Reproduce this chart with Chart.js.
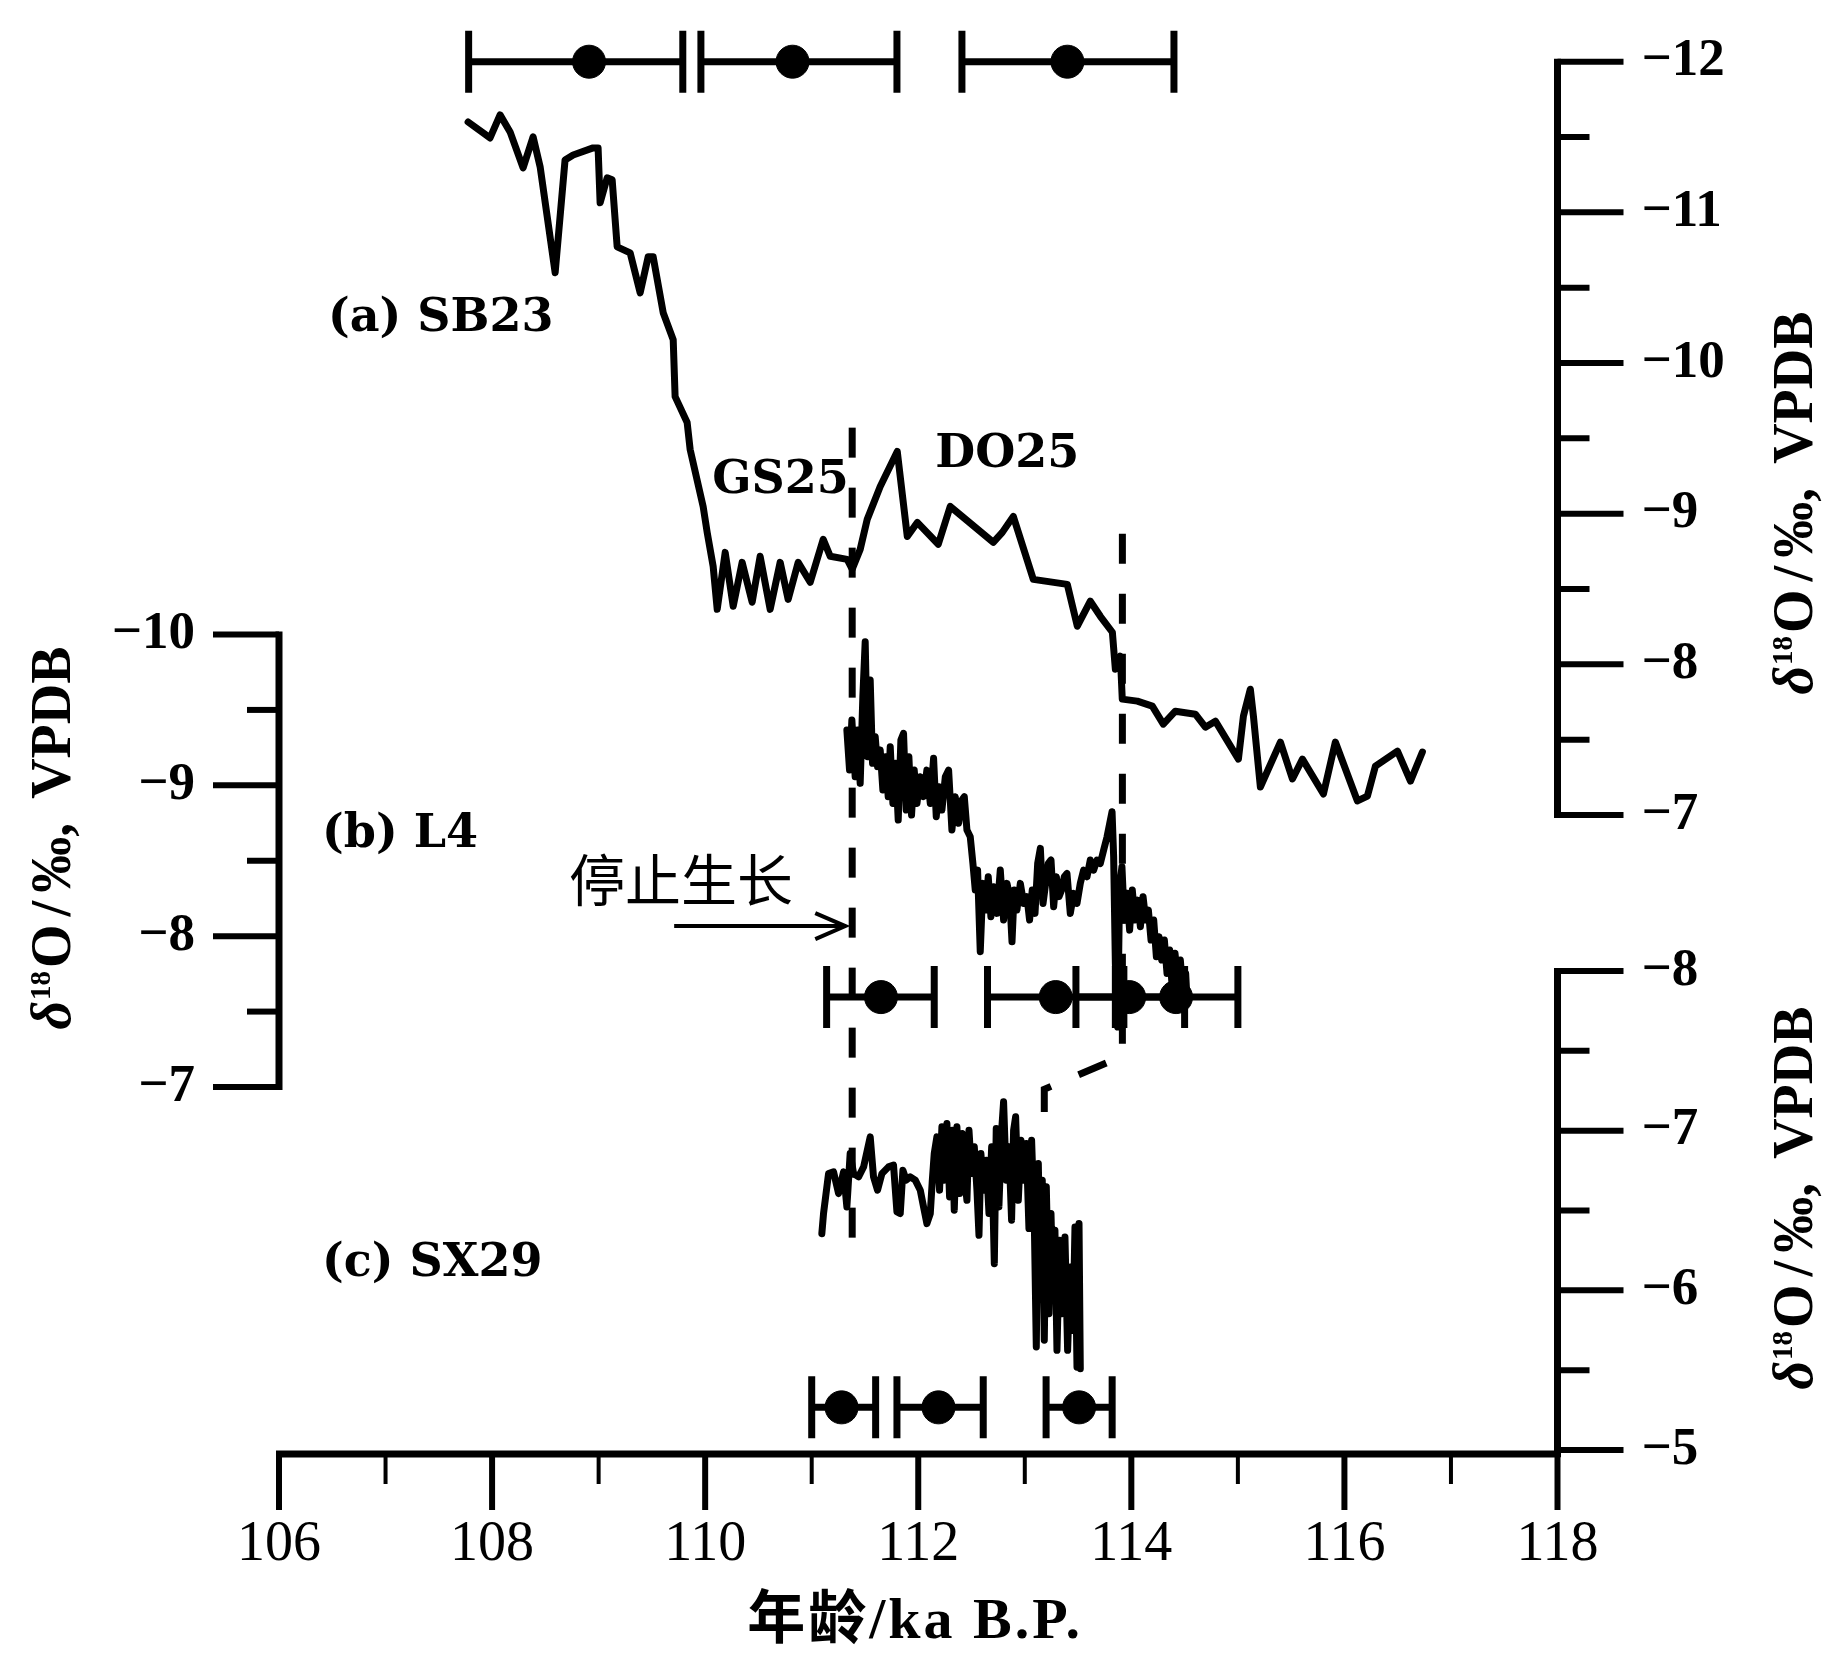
<!DOCTYPE html>
<html>
<head>
<meta charset="utf-8">
<script src="https://cdn.jsdelivr.net/npm/chart.js@4.4.0/dist/chart.umd.min.js"></script>
<style>
  html, body { margin: 0; padding: 0; background: #fff; }
  canvas { display: block; }
</style>
</head>
<body>
<canvas id="chart" width="1839" height="1675"></canvas>
<script>
// ---- data ----
// (a) SB23, right upper axis
const sb23Age = [107.775, 107.981, 108.075, 108.169, 108.291, 108.385, 108.451, 108.592, 108.685, 108.761,
  108.948, 108.995, 109.014, 109.080, 109.127, 109.174, 109.296, 109.390, 109.465, 109.512,
  109.606, 109.700, 109.718, 109.831, 109.859, 109.981, 110.019, 110.075, 110.113, 110.188,
  110.263, 110.347, 110.441, 110.516, 110.610, 110.704, 110.779, 110.873, 110.986, 111.108,
  111.174, 111.333, 111.380, 111.455, 111.521, 111.643, 111.803, 111.897, 111.991, 112.188,
  112.300, 112.704, 112.789, 112.892, 113.080, 113.399, 113.493, 113.615, 113.709, 113.822,
  113.850, 113.897, 113.915, 114.056, 114.197, 114.300, 114.413, 114.601, 114.695, 114.789,
  115.005, 115.052, 115.117, 115.146, 115.211, 115.399, 115.512, 115.606, 115.803, 115.915,
  116.122, 116.216, 116.291, 116.498, 116.620, 116.732];
const sb23Value = [-11.600, -11.494, -11.647, -11.534, -11.295, -11.501, -11.302, -10.599, -11.348, -11.381,
  -11.428, -11.428, -11.063, -11.229, -11.216, -10.771, -10.731, -10.466, -10.705, -10.705,
  -10.334, -10.155, -9.777, -9.605, -9.426, -9.048, -8.875, -8.650, -8.365, -8.743,
  -8.385, -8.677, -8.412, -8.717, -8.365, -8.677, -8.431, -8.677, -8.545, -8.830,
  -8.717, -8.697, -8.631, -8.763, -8.962, -9.181, -9.413, -8.849, -8.942, -8.797,
  -9.048, -8.810, -8.876, -8.982, -8.564, -8.531, -8.253, -8.419, -8.319, -8.213,
  -7.968, -8.054, -7.769, -7.756, -7.723, -7.603, -7.689, -7.669, -7.583, -7.623,
  -7.371, -7.656, -7.835, -7.656, -7.186, -7.484, -7.239, -7.371, -7.139, -7.484,
  -7.093, -7.126, -7.325, -7.424, -7.225, -7.418];

// (b) L4, left axis
const l4Age = [111.330, 111.355, 111.377, 111.408, 111.430, 111.455, 111.480, 111.502, 111.524, 111.549,
  111.571, 111.596, 111.618, 111.643, 111.668, 111.693, 111.718, 111.737, 111.762, 111.787,
  111.812, 111.837, 111.862, 111.887, 111.912, 111.937, 111.962, 111.988, 112.019, 112.050,
  112.081, 112.113, 112.144, 112.169, 112.194, 112.222, 112.254, 112.285, 112.316, 112.347,
  112.379, 112.410, 112.432, 112.457, 112.488, 112.513, 112.535, 112.557, 112.582, 112.607,
  112.632, 112.657, 112.682, 112.707, 112.739, 112.770, 112.801, 112.833, 112.858, 112.880,
  112.901, 112.926, 112.958, 112.989, 113.020, 113.045, 113.070, 113.096, 113.121, 113.146,
  113.171, 113.196, 113.221, 113.246, 113.271, 113.296, 113.321, 113.346, 113.371, 113.396,
  113.427, 113.459, 113.490, 113.521, 113.552, 113.584, 113.615, 113.646, 113.678, 113.709,
  113.740, 113.772, 113.797, 113.819, 113.834, 113.850, 113.872, 113.890, 113.912, 113.934,
  113.959, 113.984, 114.009, 114.034, 114.059, 114.085, 114.110, 114.135, 114.160, 114.185,
  114.210, 114.235, 114.260, 114.285, 114.310, 114.335, 114.360, 114.385, 114.410, 114.435,
  114.460, 114.485, 114.510, 114.523];
const l4Value = [-9.367, -9.101, -9.433, -9.057, -9.367, -9.013, -9.588, -9.952, -9.190, -9.698,
  -9.146, -9.322, -9.124, -9.234, -8.969, -9.190, -8.925, -9.256, -8.880, -9.146,
  -8.770, -9.300, -9.345, -8.836, -9.190, -8.803, -9.101, -8.880, -9.057, -8.925,
  -9.101, -8.880, -9.179, -8.792, -8.991, -8.836, -9.057, -9.101, -8.704, -8.925,
  -8.748, -8.903, -8.925, -8.704, -8.659, -8.482, -8.306, -8.438, -7.897, -8.350,
  -8.173, -8.394, -8.129, -8.328, -8.151, -8.438, -8.107, -8.350, -8.262, -7.963,
  -8.306, -8.173, -8.350, -8.217, -8.262, -8.107, -8.306, -8.151, -8.482, -8.582,
  -8.217, -8.350, -8.482, -8.505, -8.195, -8.394, -8.262, -8.306, -8.394, -8.416,
  -8.151, -8.284, -8.217, -8.350, -8.438, -8.394, -8.505, -8.438, -8.505, -8.482,
  -8.571, -8.659, -8.748, -8.825, -8.527, -7.819, -7.397, -8.328, -8.460, -8.107,
  -8.284, -8.040, -8.306, -8.107, -8.239, -8.063, -8.262, -8.107, -8.173, -7.974,
  -8.107, -7.864, -7.996, -7.842, -7.974, -7.753, -7.908, -7.643, -7.886, -7.709,
  -7.842, -7.621, -7.753, -7.576];

// (c) SX29, right lower axis
const sx29Age = [111.095, 111.111, 111.158, 111.205, 111.252, 111.299, 111.330, 111.361, 111.393, 111.440,
  111.487, 111.549, 111.580, 111.618, 111.659, 111.721, 111.768, 111.800, 111.831, 111.856,
  111.887, 111.925, 111.972, 112.019, 112.050, 112.081, 112.113, 112.132, 112.150, 112.175,
  112.200, 112.222, 112.244, 112.269, 112.294, 112.319, 112.338, 112.363, 112.388, 112.413,
  112.438, 112.457, 112.476, 112.501, 112.526, 112.551, 112.570, 112.588, 112.614, 112.639,
  112.664, 112.689, 112.714, 112.732, 112.757, 112.783, 112.801, 112.826, 112.851, 112.876,
  112.895, 112.914, 112.939, 112.964, 112.989, 113.014, 113.039, 113.064, 113.089, 113.108,
  113.127, 113.146, 113.164, 113.183, 113.202, 113.227, 113.246, 113.265, 113.283, 113.302,
  113.327, 113.352, 113.377, 113.402, 113.427, 113.452, 113.471, 113.490, 113.509, 113.521];
const sx29Value = [-6.355, -6.481, -6.731, -6.742, -6.606, -6.742, -6.522, -6.857, -6.731, -6.711,
  -6.773, -6.961, -6.711, -6.627, -6.731, -6.773, -6.784, -6.491, -6.481, -6.752,
  -6.690, -6.711, -6.690, -6.627, -6.522, -6.418, -6.481, -6.690, -6.857, -6.961,
  -6.627, -7.024, -6.690, -7.045, -6.585, -7.003, -6.502, -7.024, -6.606, -6.982,
  -6.690, -6.564, -7.003, -6.731, -6.899, -6.627, -6.345, -6.857, -6.627, -6.815,
  -6.481, -6.899, -6.167, -7.014, -6.522, -7.003, -7.181, -6.690, -6.899, -6.439,
  -7.003, -7.087, -6.564, -6.940, -6.690, -6.920, -6.387, -6.940, -6.439, -5.645,
  -6.794, -6.063, -6.690, -5.687, -6.648, -5.854, -6.481, -5.958, -6.376, -5.624,
  -6.314, -5.854, -6.334, -5.624, -6.146, -5.749, -6.397, -5.519, -6.418, -5.509];

// U-Th dates (age, lower and upper bound of the error bar)
const sb23DateAge = [108.91, 110.82, 113.40];
const sb23DateLo = [107.78, 109.96, 112.41];
const sb23DateHi = [109.79, 111.80, 114.40];
const l4DateAge = [111.65, 113.29, 113.98, 114.42];
const l4DateLo = [111.14, 112.65, 113.48, 113.85];
const l4DateHi = [112.15, 113.93, 114.50, 115.00];
const sx29DateAge = [111.28, 112.19, 113.51];
const sx29DateLo = [111.00, 111.80, 113.20];
const sx29DateHi = [111.60, 112.61, 113.82];

// dashed event boundaries (values on the SB23 axis)
const gs25Age = [111.38, 111.38];
const gs25Value = [-9.571, -4.166];
const do25Age = [113.916, 113.916, 113.183, 113.183];
const do25Value = [-8.867, -5.399, -5.180, -4.948];

// axes
const xTicks = [106, 108, 110, 112, 114, 116, 118];
const xMinor = [107, 109, 111, 113, 115, 117];
const yTicksA = [-12, -11, -10, -9, -8, -7];
const yTicksB = [-10, -9, -8, -7];
const yTicksC = [-8, -7, -6, -5];

// ---- layout ----
const AREA = { left: 279, right: 1557.5, top: 20, bottom: 1454 };
function reversedRange(v1, p1, v2, p2) {
  const k = (p2 - p1) / (v2 - v1);
  return { min: v1 - (p1 - AREA.top) / k, max: v1 + (AREA.bottom - p1) / k };
}
const rangeA = reversedRange(-12, 61.7, -7, 815);
const rangeB = reversedRange(-10, 634.5, -7, 1087);
const rangeC = reversedRange(-8, 971, -5, 1450);

const zip = (xs, ys) => xs.map((x, i) => ({ x, y: ys[i] }));

const curve = (xs, ys, axis) => ({
  data: zip(xs, ys), yAxisID: axis, borderColor: '#000', borderWidth: 7,
  pointRadius: 0, tension: 0, borderJoinStyle: 'round', borderCapStyle: 'round'
});

function errorBars(age, lo, hi, y, axis) {
  const sets = lo.map((l, i) => ({
    data: [{ x: l, y }, { x: hi[i], y }], yAxisID: axis,
    borderColor: '#000', borderWidth: 7, pointStyle: 'line', rotation: 90,
    pointRadius: 31, pointBorderWidth: 7, pointBorderColor: '#000'
  }));
  sets.push({
    data: age.map(a => ({ x: a, y })), yAxisID: axis, showLine: false,
    pointStyle: 'circle', pointRadius: 16.5, pointBackgroundColor: '#000',
    pointBorderColor: '#000', pointBorderWidth: 1
  });
  return sets;
}

const dashed = (xs, ys) => ({
  data: zip(xs, ys), yAxisID: 'yA', borderColor: '#000', borderWidth: 7,
  borderDash: [30, 30], borderCapStyle: 'butt', pointRadius: 0, tension: 0
});

const SERIF = '"Liberation Serif", "Times New Roman", serif';
const LABEL = 'bold 46px "DejaVu Serif", serif';
const CJK = '"Noto Sans CJK SC", sans-serif';

function ln(ctx, x1, y1, x2, y2) {
  ctx.beginPath(); ctx.moveTo(x1, y1); ctx.lineTo(x2, y2); ctx.stroke();
}
const minus = v => (v < 0 ? '\u2212' : '') + Math.abs(v);

function yAxis(ctx, scale, xp, dir, ticks, bottomPx) {
  const top = scale.getPixelForValue(ticks[0]);
  const bot = bottomPx || scale.getPixelForValue(ticks[ticks.length - 1]);
  ctx.lineWidth = 7;
  ln(ctx, xp, top - 3, xp, bot + 3);
  ctx.lineWidth = 6;
  ticks.forEach((v, i) => {
    const p = scale.getPixelForValue(v);
    ln(ctx, xp, p, xp + dir * 66, p);
    if (i < ticks.length - 1) {
      const m = scale.getPixelForValue(v + 0.5);
      ln(ctx, xp, m, xp + dir * 32, m);
    }
  });
  ctx.font = 'bold 53px ' + SERIF;
  ctx.textBaseline = 'middle';
  ctx.textAlign = dir > 0 ? 'left' : 'right';
  ticks.forEach(v => ctx.fillText(minus(v), xp + dir * 84, scale.getPixelForValue(v)));
}

function yTitle(ctx, xBase, yCenter) {
  const parts = [
    { t: '\u03B4', f: 'italic bold 56px ' + SERIF, dy: 0, gap: 1 },
    { t: '18', f: 'bold 29px ' + SERIF, dy: -20, gap: 3 },
    { t: 'O', f: 'bold 56px ' + SERIF, dy: 0, gap: 8 },
    { t: '/', f: 'bold 56px ' + SERIF, dy: 0, gap: 8 },
    { t: '\u2030', f: 'bold 56px ' + SERIF, dy: 0, gap: 0 },
    { t: ',', f: 'bold 56px ' + SERIF, dy: 0, gap: 24 },
    { t: 'VPDB', f: 'bold 56px ' + SERIF, dy: 0, gap: 0 }
  ];
  let total = 0;
  parts.forEach(p => { ctx.font = p.f; p.w = ctx.measureText(p.t).width; total += p.w + p.gap; });
  ctx.save();
  ctx.translate(xBase, yCenter);
  ctx.rotate(-Math.PI / 2);
  ctx.textAlign = 'left';
  ctx.textBaseline = 'alphabetic';
  let x = -total / 2;
  parts.forEach(p => { ctx.font = p.f; ctx.fillText(p.t, x, p.dy); x += p.w + p.gap; });
  ctx.restore();
}

const decorations = {
  id: 'decorations',
  afterDraw(chart) {
    const ctx = chart.ctx;
    const { x, yA, yB, yC } = chart.scales;
    const base = chart.chartArea.bottom;
    ctx.save();
    ctx.strokeStyle = '#000';
    ctx.fillStyle = '#000';
    ctx.lineCap = 'butt';

    // x axis
    ctx.lineWidth = 7;
    ln(ctx, x.getPixelForValue(106) - 3, base, x.getPixelForValue(118) + 3, base);
    ctx.lineWidth = 6;
    xTicks.forEach(v => ln(ctx, x.getPixelForValue(v), base, x.getPixelForValue(v), base + 56));
    ctx.lineWidth = 4;
    xMinor.forEach(v => ln(ctx, x.getPixelForValue(v), base, x.getPixelForValue(v), base + 30));
    ctx.font = '56px ' + SERIF;
    ctx.textAlign = 'center';
    ctx.textBaseline = 'alphabetic';
    xTicks.forEach(v => ctx.fillText(String(v), x.getPixelForValue(v), base + 106));
    ctx.font = 'bold 58px ' + SERIF + ', ' + CJK;
    ctx.letterSpacing = '3px';
    ctx.fillText('年龄/ka B.P.', x.getPixelForValue(111.97), base + 184);
    ctx.letterSpacing = '0px';

    // y axes
    const xr = x.getPixelForValue(118);
    const xl = x.getPixelForValue(106);
    yAxis(ctx, yA, xr, 1, yTicksA);
    yAxis(ctx, yB, xl, -1, yTicksB);
    yAxis(ctx, yC, xr, 1, yTicksC, base);

    yTitle(ctx, 70, 838);
    yTitle(ctx, 1812, 503);
    yTitle(ctx, 1812, 1198);

    // panel labels
    ctx.font = LABEL;
    ctx.textAlign = 'left';
    ctx.textBaseline = 'middle';
    ctx.fillText('(a) SB23', x.getPixelForValue(106.46), yA.getPixelForValue(-10.294));
    ctx.fillText('GS25', x.getPixelForValue(110.066), yA.getPixelForValue(-9.218));
    ctx.fillText('DO25', x.getPixelForValue(112.16), yA.getPixelForValue(-9.391));
    ctx.fillText('(b) L4', x.getPixelForValue(106.404), yB.getPixelForValue(-8.67));
    ctx.fillText('(c) SX29', x.getPixelForValue(106.404), yC.getPixelForValue(-6.163));
    ctx.font = '56px ' + CJK;
    ctx.fillText('停止生长', x.getPixelForValue(108.723), yB.getPixelForValue(-8.372));

    // arrow to the end of growth
    const ay = yB.getPixelForValue(-8.067);
    const ax0 = x.getPixelForValue(109.709);
    const ax1 = x.getPixelForValue(111.315);
    ctx.lineWidth = 4;
    ln(ctx, ax0, ay, ax1, ay);
    ctx.beginPath();
    ctx.moveTo(ax1 - 30, ay - 13);
    ctx.lineTo(ax1, ay);
    ctx.lineTo(ax1 - 30, ay + 13);
    ctx.stroke();
    ctx.restore();
  }
};

new Chart(document.getElementById('chart').getContext('2d'), {
  type: 'line',
  data: {
    datasets: [
      curve(sb23Age, sb23Value, 'yA'),
      curve(l4Age, l4Value, 'yB'),
      curve(sx29Age, sx29Value, 'yC'),
      dashed(gs25Age, gs25Value),
      dashed(do25Age, do25Value),
      ...errorBars(sb23DateAge, sb23DateLo, sb23DateHi, -12, 'yA'),
      ...errorBars(l4DateAge, l4DateLo, l4DateHi, -7.596, 'yB'),
      ...errorBars(sx29DateAge, sx29DateLo, sx29DateHi, -5.267, 'yC')
    ]
  },
  options: {
    responsive: false,
    animation: false,
    devicePixelRatio: 1,
    layout: {
      autoPadding: false,
      padding: { left: AREA.left, right: 1839 - AREA.right, top: AREA.top, bottom: 1675 - AREA.bottom }
    },
    plugins: { legend: { display: false }, tooltip: { enabled: false } },
    scales: {
      x: { type: 'linear', min: 106, max: 118, display: false },
      yA: { type: 'linear', reverse: true, bounds: 'data', min: rangeA.min, max: rangeA.max, display: false },
      yB: { type: 'linear', reverse: true, bounds: 'data', min: rangeB.min, max: rangeB.max, display: false },
      yC: { type: 'linear', reverse: true, bounds: 'data', min: rangeC.min, max: rangeC.max, display: false }
    }
  },
  plugins: [decorations]
});
</script>
</body>
</html>
